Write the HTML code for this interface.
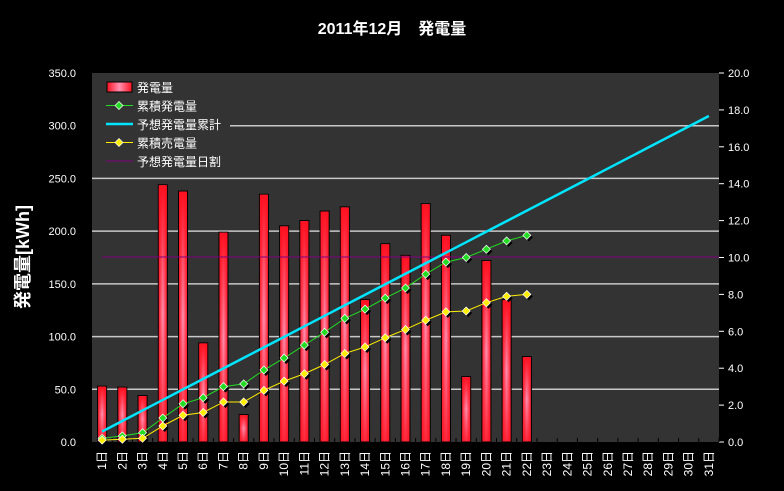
<!DOCTYPE html>
<html><head><meta charset="utf-8"><style>
body{margin:0;background:#000;width:784px;height:486px;overflow:hidden;font-family:"Liberation Sans","Noto Sans CJK JP",sans-serif}
svg text{font-family:"Liberation Sans","Noto Sans CJK JP",sans-serif}
</style></head><body>
<svg id="c" width="784" height="486">
<defs>
<linearGradient id="bg" x1="0" x2="1" y1="0" y2="0">
<stop offset="0" stop-color="#ff1020"/><stop offset="0.5" stop-color="#ff90b0"/><stop offset="1" stop-color="#ff1020"/></linearGradient>
<linearGradient id="bgv" x1="0" x2="0" y1="0" y2="1">
<stop offset="0" stop-color="#ff1020" stop-opacity="1"/><stop offset="0.5" stop-color="#ff1020" stop-opacity="0"/><stop offset="1" stop-color="#ff1020" stop-opacity="0.8"/></linearGradient>
</defs>
<text x="392" y="34" fill="#fff" font-size="16" font-weight="bold" text-anchor="middle">2011年12月　発電量</text>
<rect x="92" y="73" width="627" height="369" fill="#333"/>
<g id="g"></g>
<text transform="translate(29,257) rotate(-90)" fill="#fff" font-size="18" font-weight="bold" text-anchor="middle">発電量[kWh]</text>
</svg>
<script>
const days=['1日','2日','3日','4日','5日','6日','7日','8日','9日','10日','11日','12日','13日','14日','15日','16日','17日','18日','19日','20日','21日','22日','23日','24日','25日','26日','27日','28日','29日','30日','31日'];
const gen=[53,52,44,244,238,94,199,26,235,205,210,219,223,135,188,177,226,196,62,172,135,81];
const cumGen=[0.2,0.33,0.5,1.3,2.07,2.4,3.0,3.15,3.9,4.55,5.25,5.95,6.7,7.2,7.8,8.35,9.1,9.75,10.0,10.45,10.9,11.2];
const cumSell=[0.1,0.15,0.2,0.87,1.45,1.6,2.17,2.17,2.8,3.3,3.7,4.2,4.8,5.15,5.65,6.1,6.6,7.05,7.1,7.55,7.9,8.0];
const forecastCum=[0.57,1.14,1.71,2.28,2.85,3.42,3.99,4.56,5.13,5.7,6.27,6.84,7.41,7.98,8.55,9.12,9.69,10.26,10.83,11.4,11.97,12.54,13.11,13.68,14.25,14.82,15.39,15.96,16.53,17.1,17.67];
const dailyForecast=175.5;
const leftTicks=['0.0','50.0','100.0','150.0','200.0','250.0','300.0','350.0'];
const rightTicks=['0.0','2.0','4.0','6.0','8.0','10.0','12.0','14.0','16.0','18.0','20.0'];
const X0=92,X1=719,Y0=442,Y1=73,ns='http://www.w3.org/2000/svg';
const bw=(X1-X0)/days.length;
const xc=i=>X0+(i+0.5)*bw;
const yl=v=>Y0-v/350*(Y0-Y1);
const yr=v=>Y0-v/20*(Y0-Y1);
const g=document.getElementById('g');
function mk(t,a,p){const e=document.createElementNS(ns,t);for(const k in a)e.setAttribute(k,a[k]);(p||g).appendChild(e);return e;}
leftTicks.forEach((t,i)=>{const v=i*50,y=yl(v);
 if(i>0&&i<7){const l=mk('line',{x1:X0,x2:X1,y1:y,y2:y,stroke:'#c8c8c8','stroke-width':1.5});
 
 }
 const tx=mk('text',{x:76,y:y+4,fill:'#fff','font-size':11,'text-anchor':'end'});tx.textContent=t;
 
 });
rightTicks.forEach((t,i)=>{const y=yr(i*2);
 mk('line',{x1:X1,x2:X1+5,y1:y,y2:y,stroke:'#fff'});
 const tx=mk('text',{x:728,y:y+4,fill:'#fff','font-size':11});tx.textContent=t;
 
 });
days.forEach((d,i)=>{const tx=mk('text',{transform:`translate(${xc(i)+4},${451}) rotate(-90)`,fill:'#fff','font-size':12,'text-anchor':'end'});tx.textContent=d;
 
 
 mk('line',{x1:X0+(i+1)*bw,x2:X0+(i+1)*bw,y1:Y0-4,y2:Y0,stroke:'#000'});});
gen.forEach((v,i)=>{const y=yl(v);
 const r=mk('rect',{x:xc(i)-4.5,y:y,width:9,height:Y0-y,fill:'url(#bg)',stroke:'#000','stroke-width':1});
 
 
 mk('rect',{x:xc(i)-4,y:y+0.5,width:8,height:Y0-y-1,fill:'url(#bgv)'});});
const pl=mk('line',{x1:xc(0),x2:X1,y1:yl(dailyForecast),y2:yl(dailyForecast),stroke:'#800080','stroke-width':1});


function line(arr,col,w,name){const p=mk('polyline',{points:arr.map((v,i)=>xc(i)+','+yr(v)).join(' '),fill:'none',stroke:col,'stroke-width':w});
 
 }
line(forecastCum,'#00e5ff',2.5,'forecast-cumulative-line');
function markers(arr,col,name){line(arr,col,1,name+'-line');arr.forEach((v,i)=>{const x=xc(i),y=yr(v);
 mk('path',{d:`M${x+2},${y-2}l4,4l-4,4l-4,-4z`,fill:'#000'});
 const m=mk('path',{d:`M${x},${y-4}l4,4l-4,4l-4,-4z`,fill:col,stroke:'#fff','stroke-width':0.7});
 
 });}
markers(cumGen,'#22dd22','cumulative-generation');
markers(cumSell,'#ffee00','cumulative-sold');
const L=mk('g',{});


mk('rect',{x:92,y:73,width:138,height:98,fill:'#333'},L);
const items=['発電量','累積発電量','予想発電量累計','累積売電量','予想発電量日割'];
items.forEach((t,i)=>{const y=87+i*18.5;
 if(i==0)mk('rect',{x:107,y:y-5,width:25,height:10,fill:'url(#bg)',stroke:'#000'},L);
 if(i==1||i==3){const c=i==1?'#22dd22':'#ffee00';mk('line',{x1:106,x2:133,y1:y,y2:y,stroke:c},L);mk('path',{d:`M119,${y-4}l4,4l-4,4l-4,-4z`,fill:c,stroke:'#fff','stroke-width':0.7},L);}
 if(i==2)mk('line',{x1:106,x2:133,y1:y,y2:y,stroke:'#00e5ff','stroke-width':2.5},L);
 if(i==4)mk('line',{x1:106,x2:133,y1:y,y2:y,stroke:'#800080'},L);
 const tx=mk('text',{x:137,y:y+5,fill:'#fff','font-size':12},L);tx.textContent=t;
 
 });
</script>
</body></html>
